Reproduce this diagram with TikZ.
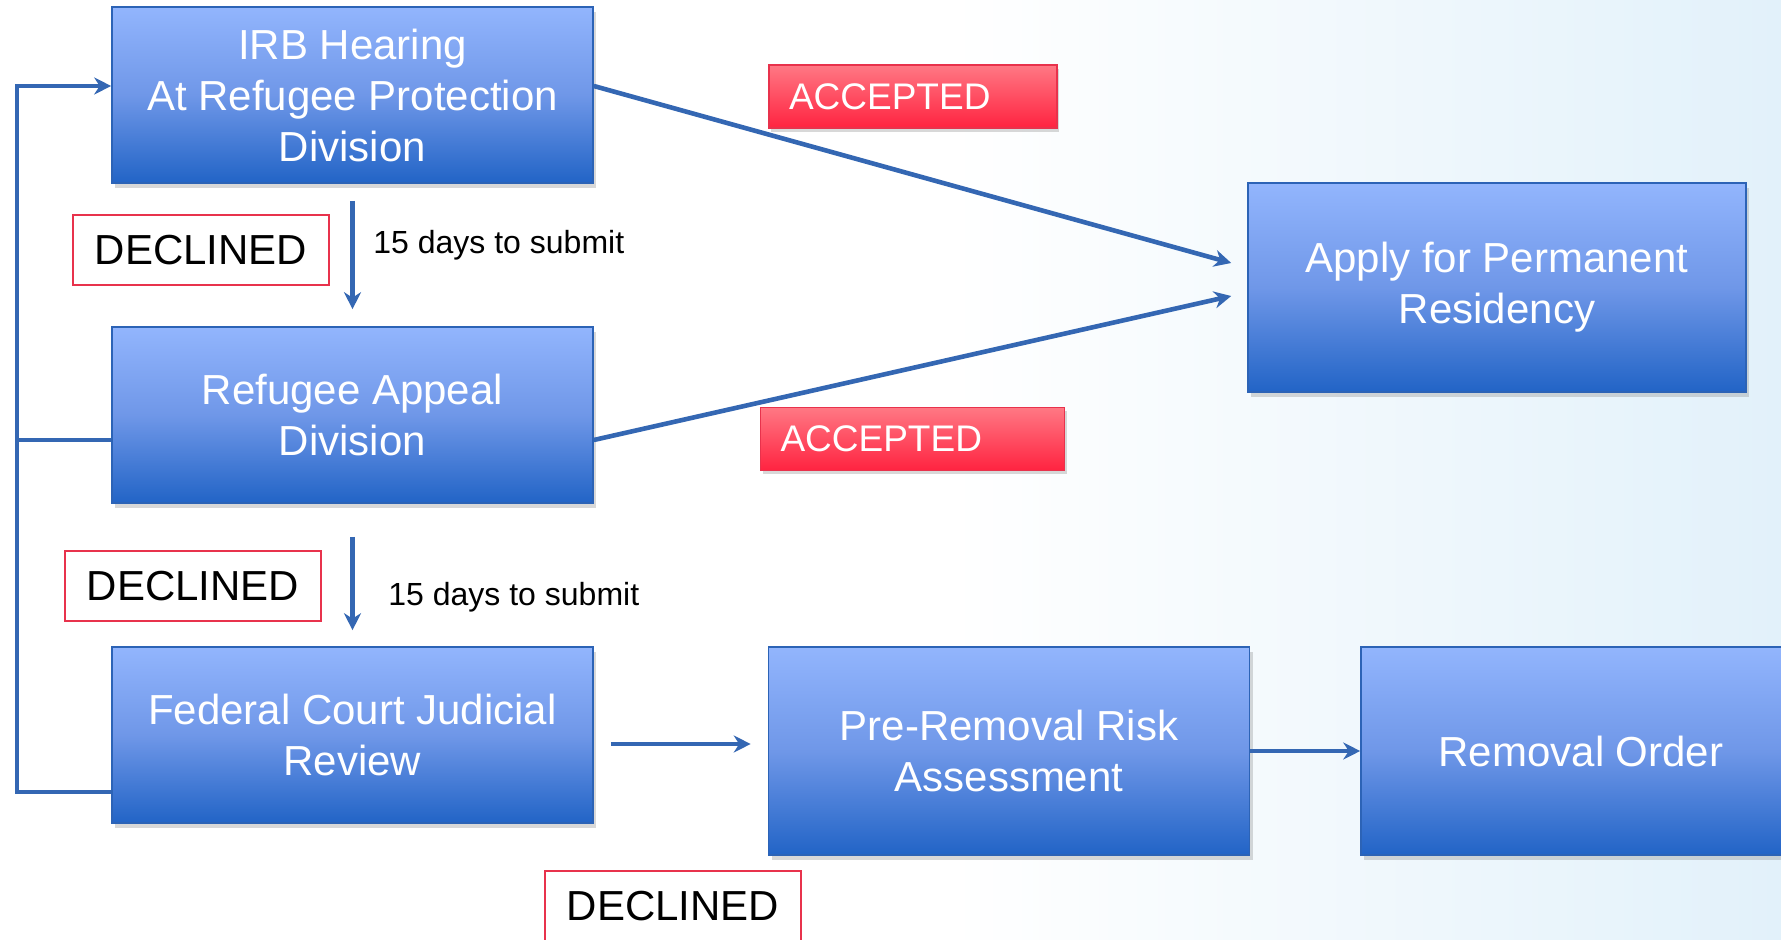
\documentclass[tikz,border=0pt]{standalone}
\usepackage{fontspec}
\setmainfont{Liberation Sans}
\usetikzlibrary{arrows.meta,shadows}

\definecolor{boxtop}{HTML}{92B5FD}
\definecolor{boxmid}{HTML}{6F97E8}
\definecolor{boxbot}{HTML}{2264C6}
\definecolor{boxline}{HTML}{2C63B6}
\definecolor{flowblue}{HTML}{3467B3}
\definecolor{redtop}{HTML}{FF7884}
\definecolor{redbot}{HTML}{FF2340}
\definecolor{redline}{HTML}{E8324C}
\definecolor{bgblue}{HTML}{E2F1FA}

\begin{document}
\begin{tikzpicture}[x=0.5pt, y=-0.5pt, node distance=160pt,
    main box/.style={rectangle, draw=boxline, line width=0.8pt,
      top color=boxtop, bottom color=boxbot, middle color=boxmid,
      text=white, align=center, minimum width=240.5pt, minimum height=88pt,
      font=\fontsize{21}{25.5}\selectfont,
      drop shadow={shadow xshift=1.5pt, shadow yshift=-2.5pt, opacity=0.3}},
    accepted tag/.style={rectangle, draw=redline, line width=0.6pt,
      top color=redtop, bottom color=redbot, text=white, align=left,
      inner xsep=10pt, minimum height=31.5pt,
      font=\fontsize{18.5}{22}\selectfont,
      drop shadow={shadow xshift=1.2pt, shadow yshift=-2pt, opacity=0.3}},
    declined tag/.style={rectangle, draw=redline, line width=0.8pt, fill=white,
      minimum width=128pt, minimum height=35pt,
      font=\fontsize{21}{25}\selectfont},
    days/.style={anchor=west, inner sep=0pt, font=\fontsize{16}{19}\selectfont},
    flow/.style={draw=flowblue, line width=2.3pt, -{Stealth[length=8.5pt,width=8.5pt]}}]

  % background
  \useasboundingbox (0,0) rectangle (1781,940);
  \fill[white] (0,0) rectangle (1781,940);
  \shade[left color=white, right color=bgblue] (950,0) rectangle (1781,940);

  \node[main box] (irb) at (352.5,95) {IRB Hearing\\At Refugee Protection\\Division};
  \node[main box] (rad) [below of=irb] {Refugee Appeal\\Division};
  \node[main box] (fc) [below of=rad] {Federal Court Judicial\\Review};
  \node[main box, minimum height=104pt] (prra) at (1009,751) {Pre-Removal Risk\\Assessment};
  \node[main box, minimum width=220pt, minimum height=104pt] (order) at (1581,751) {Removal Order};
  \node[main box, minimum width=249pt, minimum height=104.5pt] (pr) at (1497,287.5) {Apply for Permanent\\Residency};

  \node[accepted tag, text width=124pt] (acc1) at (913,96.5) {ACCEPTED};
  \node[accepted tag, text width=132pt] (acc2) at (912.5,439) {ACCEPTED};

  \node[declined tag] (dec1) at (201,250) {DECLINED};
  \node[declined tag] (dec2) at (193,586) {DECLINED};
  \node[declined tag] (dec3) at (673,906) {DECLINED};

  \node[days] (days1) at (373,245) {15 days to submit};
  \node[days] (days2) at (388,597) {15 days to submit};

  \coordinate (top) at (17,86);
  \coordinate (bottom) at (17,792);

  \draw[flow] ([yshift=4.5pt]irb.east) -- ([xshift=-8pt,yshift=12.25pt]pr.west);
  \draw[flow] ([yshift=-12.5pt]rad.east) -- ([xshift=-8pt,yshift=-4.25pt]pr.west);
  \draw[flow, shorten <=8.5pt, shorten >=8.5pt] (irb.south) -- (rad.north);
  \draw[flow, shorten <=16.5pt, shorten >=8pt] (rad.south) -- (fc.north);
  \draw[flow] ([xshift=8.5pt,yshift=-4.5pt]fc.east) -- ([xshift=-8.5pt,yshift=3.5pt]prra.west);
  \draw[flow] (prra.east) -- (order.west);
  \draw[flow] ([yshift=-28.5pt]fc.west) -- (bottom) -- (top) -- ([yshift=4.5pt]irb.west);
  \draw[flow, -] ([yshift=-12.5pt]rad.west) -| (top);

\end{tikzpicture}
\end{document}
